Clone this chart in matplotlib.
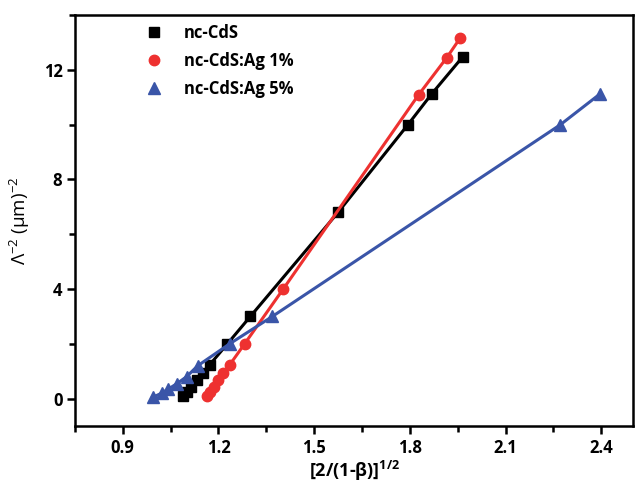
import matplotlib
matplotlib.use("Agg")
import matplotlib.pyplot as plt
from matplotlib.lines import Line2D
from matplotlib.ticker import MultipleLocator

plt.rcParams['font.family'] = ['Open Sans', 'DejaVu Sans']
plt.rcParams['mathtext.default'] = 'regular'

# nc-CdS (black squares)
cds_x = [1.09, 1.101, 1.114, 1.133, 1.15, 1.172, 1.228, 1.30, 1.575, 1.794, 1.869, 1.966]
cds_y = [0.1, 0.25, 0.44, 0.69, 0.93, 1.23, 2.0, 3.0, 6.8, 10.0, 11.13, 12.48]

# nc-CdS:Ag 1% (red circles)
ag1_x = [1.163, 1.172, 1.185, 1.2, 1.215, 1.235, 1.282, 1.403, 1.828, 1.916, 1.957]
ag1_y = [0.1, 0.25, 0.44, 0.69, 0.93, 1.23, 2.0, 4.0, 11.1, 12.45, 13.15]

# nc-CdS:Ag 5% (blue triangles)
ag5_x = [0.994, 1.022, 1.043, 1.07, 1.1, 1.135, 1.235, 1.369, 2.272, 2.397]
ag5_y = [0.05, 0.2, 0.35, 0.55, 0.8, 1.2, 2.0, 3.0, 10.0, 11.13]

labels = ["nc-CdS", "nc-CdS:Ag 1%", "nc-CdS:Ag 5%"]
colors = ["#000000", "#ee3130", "#3a55a8"]
markers = ["s", "o", "^"]
msizes = [6.5, 7.5, 8]

fig = plt.figure(figsize=(6.35, 4.88), dpi=100)
ax = fig.add_axes([0.118, 0.127, 0.879, 0.842])

for xs, ys, c, m, ms in zip([cds_x, ag1_x, ag5_x], [cds_y, ag1_y, ag5_y], colors, markers, msizes):
    ax.plot(xs, ys, color=c, lw=2.2, marker=m, ms=ms, mec=c, mfc=c)

ax.set_xlim(0.75, 2.5)
ax.set_ylim(-1, 14)
ax.xaxis.set_minor_locator(MultipleLocator(0.15))
ax.yaxis.set_major_locator(MultipleLocator(4))
ax.yaxis.set_minor_locator(MultipleLocator(2))
ax.set_xticks([0.9, 1.2, 1.5, 1.8, 2.1, 2.4])
ax.set_xticklabels(["0.9", "1.2", "1.5", "1.8", "2.1", "2.4"])

for s in ax.spines.values():
    s.set_linewidth(1.8)
ax.tick_params(which='major', direction='out', length=6, width=1.8, labelsize=12, pad=3)
ax.tick_params(which='minor', direction='out', length=4, width=1.8)
for lab in ax.get_xticklabels() + ax.get_yticklabels():
    lab.set_fontweight('bold')

ax.set_xlabel(r"[2/(1-β)]$^{1/2}$", fontsize=13, fontweight='bold', labelpad=2)
ax.set_ylabel(r"Λ$^{-2}$ (μm)$^{-2}$", fontsize=13.5, labelpad=8)

handles = [Line2D([], [], ls='none', marker=m, ms=ms, color=c) for m, ms, c in zip(markers, msizes, colors)]
ax.legend(handles, labels, loc='upper left', bbox_to_anchor=(0.1, 1.015), frameon=False,
          prop={'weight': 'bold', 'size': 12}, handlelength=1.0, handletextpad=1.3,
          labelspacing=0.6)

fig.savefig("out.png", dpi=100)
